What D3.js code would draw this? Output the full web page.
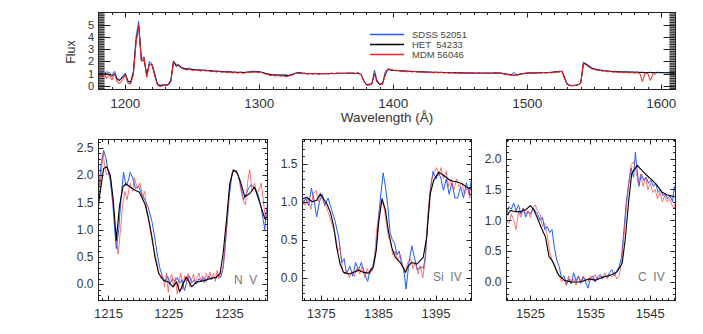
<!DOCTYPE html>
<html>
<head>
<meta charset="utf-8">
<script src="https://cdn.jsdelivr.net/npm/d3@7"></script>
<style>
  body { margin: 0; background: #fff; }
  svg { display: block; font-family: "Liberation Sans", Arial, sans-serif; }
</style>
</head>
<body>
<script>
// Full spectrum, sampled every 2 A from 1180 A
const topStart = 1180, topStep = 2;

const topBlue = [
  1.1, 1.2, 1.0, 1.15, 1.1, 0.9, 1.2, 0.6, 0.5, 0.8,
  1.05, 0.4, 0.3, 1.2, 4.0, 5.3, 2.2, 2.4, 0.8, 2.0,
  1.8, 1.0, 0.15, 0.05, 0.1, 0.05, 0.1, 0.5, 2.05, 1.7,
  1.75, 1.5, 1.45, 1.4, 1.45, 1.35, 1.35, 1.3, 1.32, 1.28,
  1.3, 1.25, 1.27, 1.2, 1.22, 1.2, 1.18, 1.17, 1.15, 1.18,
  1.12, 1.13, 1.1, 1.14, 1.1, 1.12, 1.15, 1.18, 1.2, 1.18,
  1.16, 1.12, 1.05, 1.0, 0.95, 0.92, 0.9, 0.9, 0.88, 0.9,
  0.88, 0.86, 0.92, 1.0, 1.08, 1.1, 1.05, 1.02, 1.0, 1.03,
  1.0, 1.02, 0.98, 1.0, 1.02, 0.99, 1.0, 1.03, 1.0, 1.02,
  1.05, 1.02, 1.04, 1.03, 1.05, 1.04, 1.02, 1.05, 0.95, 0.4,
  0.1, 0.15, 0.15, 1.3, 0.4, 0.1, 0.15, 1.15, 1.4, 1.3,
  1.25, 1.28, 1.25, 1.22, 1.24, 1.2, 1.2, 1.18, 1.2, 1.16,
  1.15, 1.17, 1.13, 1.14, 1.12, 1.1, 1.13, 1.1, 1.12, 1.09,
  1.1, 1.08, 1.1, 1.07, 1.09, 1.06, 1.08, 1.05, 1.07, 1.05,
  1.06, 1.04, 1.06, 1.04, 1.05, 1.06, 1.04, 1.05, 1.08, 1.06,
  1.05, 1.02, 0.98, 0.95, 0.9, 1.12, 0.92, 0.95, 1.0, 1.03,
  1.05, 1.06, 1.08, 1.06, 1.08, 1.07, 1.1, 1.08, 1.1, 1.12,
  1.15, 1.18, 1.15, 1.2, 0.7, 0.15, 0.05, 0.0, 0.05, 0.08,
  0.3, 1.95, 1.8, 1.65, 1.5, 1.4, 1.35, 1.3, 1.28, 1.25,
  1.22, 1.2, 1.18, 1.2, 1.15, 1.17, 1.14, 1.16, 1.13, 1.15,
  1.12, 1.14, 1.1, 1.12, 1.08, 1.1, 1.12, 1.08, 1.1, 1.12,
  1.08, 1.1, 1.07, 1.1, 1.08, 1.1
];

const topBlack = [
  1.0, 1.05, 1.0, 1.0, 0.95, 0.8, 1.0, 0.5, 0.45, 0.7,
  0.95, 0.35, 0.3, 1.0, 3.6, 4.9, 2.1, 2.1, 0.9, 1.8,
  1.7, 0.9, 0.1, 0.0, 0.05, 0.05, 0.1, 0.4, 2.0, 1.6,
  1.7, 1.5, 1.4, 1.38, 1.35, 1.33, 1.32, 1.3, 1.28, 1.27,
  1.25, 1.24, 1.22, 1.2, 1.19, 1.18, 1.16, 1.15, 1.14, 1.13,
  1.12, 1.11, 1.1, 1.1, 1.09, 1.1, 1.12, 1.14, 1.15, 1.15,
  1.14, 1.1, 1.04, 0.98, 0.93, 0.9, 0.88, 0.88, 0.87, 0.88,
  0.86, 0.85, 0.9, 0.98, 1.05, 1.06, 1.03, 1.02, 1.0, 1.0,
  0.99, 1.0, 0.99, 0.99, 1.0, 1.0, 1.0, 1.01, 1.01, 1.02,
  1.02, 1.02, 1.03, 1.03, 1.03, 1.03, 1.02, 1.02, 0.92, 0.45,
  0.08, 0.1, 0.15, 1.0, 0.3, 0.1, 0.2, 0.9, 1.35, 1.3,
  1.27, 1.26, 1.24, 1.22, 1.21, 1.2, 1.19, 1.18, 1.17, 1.16,
  1.15, 1.14, 1.13, 1.12, 1.12, 1.11, 1.11, 1.1, 1.1, 1.09,
  1.09, 1.08, 1.08, 1.07, 1.07, 1.06, 1.06, 1.05, 1.05, 1.05,
  1.05, 1.04, 1.04, 1.04, 1.04, 1.04, 1.04, 1.04, 1.05, 1.05,
  1.04, 1.02, 0.98, 0.93, 0.9, 0.88, 0.9, 0.94, 0.98, 1.02,
  1.04, 1.05, 1.06, 1.06, 1.07, 1.07, 1.08, 1.08, 1.08, 1.1,
  1.12, 1.15, 1.15, 1.2, 0.6, 0.1, 0.02, 0.02, 0.05, 0.08,
  0.25, 1.85, 1.78, 1.62, 1.45, 1.38, 1.33, 1.28, 1.26, 1.23,
  1.2, 1.19, 1.17, 1.16, 1.15, 1.14, 1.13, 1.13, 1.12, 1.12,
  1.11, 1.11, 1.1, 1.1, 1.09, 1.09, 1.09, 1.08, 1.08, 1.08,
  1.08, 1.08, 1.07, 1.08, 1.07, 1.08
];

const topRed = [
  0.9, 0.7, 1.1, 0.6, 0.9, 0.5, 1.0, 0.3, 0.2, 0.5,
  0.9, 0.2, 0.15, 0.9, 3.5, 5.0, 2.0, 2.3, 0.7, 1.8,
  1.7, 0.8, 0.05, -0.05, 0.0, 0.1, 0.05, 0.3, 1.95, 1.8,
  1.6, 1.45, 1.35, 1.3, 1.4, 1.25, 1.3, 1.35, 1.2, 1.3,
  1.22, 1.28, 1.15, 1.22, 1.12, 1.2, 1.1, 1.18, 1.08, 1.15,
  1.05, 1.12, 1.04, 1.1, 1.02, 1.08, 1.1, 1.12, 1.15, 1.12,
  1.08, 1.1, 0.98, 0.95, 0.85, 0.88, 0.8, 0.85, 0.78, 0.82,
  0.75, 0.8, 0.85, 0.95, 1.1, 1.02, 1.0, 1.05, 0.95, 1.02,
  0.96, 1.04, 0.95, 1.02, 0.97, 1.03, 0.98, 1.05, 0.99, 1.06,
  1.0, 1.05, 1.0, 1.06, 1.02, 1.05, 1.0, 1.08, 0.9, 0.4,
  0.05, 0.08, 0.15, 0.95, 0.4, 0.2, 0.1, 0.9, 1.4, 1.35,
  1.3, 1.22, 1.28, 1.18, 1.22, 1.15, 1.2, 1.13, 1.18, 1.12,
  1.16, 1.1, 1.14, 1.08, 1.12, 1.06, 1.1, 1.07, 1.1, 1.05,
  1.08, 1.04, 1.08, 1.03, 1.07, 1.02, 1.06, 1.0, 1.05, 1.01,
  1.04, 1.0, 1.05, 1.01, 1.03, 1.0, 1.05, 1.01, 1.04, 1.02,
  1.05, 0.98, 0.95, 0.9, 0.86, 0.85, 0.88, 0.9, 0.97, 1.0,
  1.06, 1.02, 1.08, 1.03, 1.09, 1.04, 1.1, 1.05, 1.1, 1.06,
  1.12, 1.1, 1.2, 1.15, 0.55, 0.1, 0.0, 0.05, 0.02, 0.1,
  0.2, 1.85, 1.7, 1.55, 1.4, 1.35, 1.28, 1.3, 1.2, 1.25,
  1.15, 1.18, 1.12, 1.15, 1.1, 1.14, 1.08, 1.12, 1.06, 1.1,
  1.05, 1.08, 1.02, 0.35, 1.05, 1.0, 0.45, 1.02, 0.95, null,
  null, null, null, null, null, null
];

// Legend (non-breaking spaces keep the double gap)
const seriesNames = ['SDSS 52051', 'HET\u00a0\u00a054233', 'MDM 56046'];
const seriesColors = ['#1f5bff', '#000000', '#ff2020'];

// Zoomed windows: [wavelength, flux]
const nvBlue = [[1213.35,1.7],[1213.8,2.2],[1214.2,2.45],[1214.6,2.3],[1214.9,2.1],[1215.3,1.9],[1215.7,1.5],[1216.0,1.05],[1216.3,0.65],[1216.7,1.0],[1217.1,1.6],[1217.5,2.05],[1217.9,1.8],[1218.3,1.9],[1218.6,2.05],[1219.0,1.95],[1219.5,1.75],[1220.0,1.8],[1220.5,1.65],[1221.0,1.55],[1221.6,1.4],[1222.2,1.15],[1222.6,0.9],[1223.0,0.6],[1223.5,0.3],[1224.0,0.12],[1224.4,0.05],[1224.8,0.15],[1225.2,0.0],[1225.6,0.1],[1226.0,0.05],[1226.4,0.12],[1226.8,0.02],[1227.2,0.08],[1227.6,-0.12],[1228.0,0.05],[1228.4,0.15],[1228.8,0.02],[1229.2,0.08],[1229.6,0.0],[1230.0,0.1],[1230.4,0.05],[1230.8,0.12],[1231.2,0.05],[1231.6,0.15],[1232.0,0.08],[1232.4,0.12],[1232.8,0.1],[1233.2,0.18],[1233.6,0.12],[1234.0,0.3],[1234.5,0.9],[1235.0,1.6],[1235.5,2.05],[1236.0,2.07],[1236.5,2.0],[1237.0,1.75],[1237.4,1.55],[1237.8,1.65],[1238.2,1.75],[1238.6,1.82],[1239.0,1.78],[1239.5,1.72],[1239.9,1.6],[1240.3,1.4],[1240.6,1.2],[1240.9,1.0],[1241.1,1.3],[1241.35,1.45]];
const nvBlack = [[1213.35,1.48],[1214.2,2.12],[1214.7,2.15],[1215.3,2.0],[1215.8,1.54],[1216.3,0.8],[1216.8,1.41],[1217.4,1.78],[1217.9,1.84],[1218.6,1.78],[1219.4,1.72],[1220.1,1.69],[1220.5,1.6],[1221.1,1.45],[1221.6,1.23],[1222.2,0.87],[1222.7,0.5],[1223.3,0.2],[1224.1,0.07],[1224.9,0.04],[1225.7,-0.05],[1226.3,0.04],[1226.8,-0.14],[1227.4,0.01],[1227.9,0.13],[1228.8,-0.05],[1229.6,0.04],[1230.7,0.06],[1231.8,0.1],[1232.9,0.13],[1233.5,0.2],[1234.0,0.56],[1234.6,1.23],[1235.1,1.84],[1235.7,2.09],[1236.2,2.07],[1236.8,1.9],[1237.6,1.6],[1238.4,1.66],[1239.2,1.78],[1240.1,1.48],[1240.9,1.2],[1241.35,1.23]];
const nvRed = [[1213.35,1.35],[1213.7,1.9],[1214.1,2.4],[1214.4,2.15],[1214.7,2.0],[1215.1,2.05],[1215.4,1.9],[1215.8,1.4],[1216.2,1.0],[1216.6,0.55],[1217.0,1.0],[1217.3,1.4],[1217.7,1.7],[1218.1,1.55],[1218.6,1.85],[1219.0,1.7],[1219.3,1.95],[1219.8,1.75],[1220.2,1.85],[1220.7,1.6],[1221.0,1.7],[1221.4,1.3],[1221.8,1.05],[1222.2,0.8],[1222.6,0.6],[1223.0,0.4],[1223.4,0.2],[1223.7,0.1],[1224.0,0.15],[1224.3,-0.05],[1224.6,0.2],[1224.9,-0.15],[1225.2,0.1],[1225.5,0.18],[1225.8,-0.05],[1226.1,0.12],[1226.4,-0.18],[1226.7,0.05],[1227.0,0.2],[1227.3,-0.1],[1227.6,0.15],[1227.9,0.05],[1228.2,0.2],[1228.5,-0.05],[1228.8,0.1],[1229.1,0.18],[1229.4,0.0],[1229.7,0.12],[1230.0,0.2],[1230.3,0.05],[1230.6,0.15],[1230.9,0.02],[1231.2,0.2],[1231.5,0.08],[1231.8,0.22],[1232.1,0.1],[1232.4,0.2],[1232.7,0.05],[1233.0,0.25],[1233.3,0.1],[1233.6,0.2],[1233.9,0.25],[1234.2,0.5],[1234.7,1.2],[1235.1,1.8],[1235.6,2.1],[1236.0,2.05],[1236.5,2.0],[1237.0,1.7],[1237.3,1.55],[1237.7,1.45],[1238.1,1.9],[1238.4,2.1],[1238.8,1.7],[1239.2,1.85],[1239.6,1.65],[1240.0,1.75],[1240.3,1.85],[1240.7,1.5],[1241.0,1.2],[1241.35,1.3]];

const siBlue = [[1371.7,0.95],[1372.3,1.05],[1372.8,0.95],[1373.3,1.18],[1373.8,1.0],[1374.2,0.8],[1374.7,1.0],[1375.2,1.1],[1375.6,0.95],[1376.2,1.05],[1376.8,0.9],[1377.4,0.75],[1378.0,0.55],[1378.6,0.2],[1379.0,0.25],[1379.4,0.05],[1380.0,0.15],[1380.5,0.02],[1381.0,0.2],[1381.5,0.1],[1382.0,0.2],[1382.6,0.05],[1383.1,-0.05],[1383.5,0.1],[1384.0,0.15],[1384.6,0.4],[1385.0,0.8],[1385.4,1.1],[1385.8,1.38],[1386.2,1.2],[1386.6,0.95],[1387.0,0.6],[1387.4,0.5],[1387.8,0.45],[1388.2,0.3],[1388.6,0.35],[1389.0,0.2],[1389.4,0.1],[1389.8,-0.15],[1390.3,0.2],[1390.8,0.42],[1391.3,0.25],[1391.8,0.1],[1392.3,0.15],[1392.8,0.12],[1393.2,0.3],[1393.6,0.8],[1394.1,1.2],[1394.5,1.4],[1395.0,1.3],[1395.5,1.38],[1395.9,1.3],[1396.3,1.15],[1396.8,1.3],[1397.3,1.1],[1397.8,1.25],[1398.3,1.05],[1398.8,1.05],[1399.3,1.2],[1399.8,1.05],[1400.3,1.25],[1400.8,1.1],[1401.2,1.3]];
const siBlack = [[1371.7,1.04],[1372.5,1.06],[1373.4,1.0],[1374.2,1.02],[1374.8,1.1],[1375.4,1.04],[1376.0,0.97],[1376.6,0.86],[1377.2,0.67],[1377.7,0.4],[1378.3,0.18],[1378.9,0.07],[1379.8,0.05],[1380.6,0.07],[1381.5,0.1],[1382.4,0.07],[1383.3,0.06],[1384.1,0.14],[1384.6,0.36],[1385.0,0.71],[1385.6,1.04],[1386.2,0.89],[1386.7,0.62],[1387.3,0.4],[1387.9,0.27],[1388.8,0.2],[1389.7,0.07],[1390.2,0.16],[1390.8,0.2],[1391.7,0.18],[1392.8,0.27],[1393.4,0.54],[1394.0,1.1],[1394.6,1.28],[1395.5,1.39],[1396.3,1.35],[1397.5,1.28],[1398.7,1.26],[1399.5,1.24],[1400.4,1.19],[1401.2,1.16]];
const siRed = [[1371.7,1.05],[1372.2,0.95],[1372.7,1.05],[1373.2,0.9],[1373.6,1.1],[1374.1,1.15],[1374.5,1.0],[1374.9,1.12],[1375.4,1.0],[1375.8,0.95],[1376.3,0.85],[1376.7,0.75],[1377.1,0.65],[1377.5,0.55],[1377.9,0.35],[1378.3,0.4],[1378.7,0.1],[1379.1,0.05],[1379.5,0.1],[1379.9,0.0],[1380.4,0.08],[1380.8,0.02],[1381.2,0.12],[1381.7,0.05],[1382.1,0.15],[1382.6,0.0],[1383.0,0.12],[1383.5,0.05],[1383.9,0.1],[1384.3,0.25],[1384.7,0.65],[1385.1,0.85],[1385.5,1.0],[1385.9,0.95],[1386.3,0.75],[1386.7,0.55],[1387.1,0.45],[1387.5,0.3],[1387.9,0.35],[1388.3,0.22],[1388.8,0.3],[1389.2,0.15],[1389.7,0.1],[1390.1,0.2],[1390.6,0.25],[1391.0,0.12],[1391.4,0.2],[1391.9,0.05],[1392.3,0.15],[1392.7,0.0],[1393.1,0.2],[1393.5,0.7],[1393.9,1.1],[1394.3,1.3],[1394.7,1.4],[1395.1,1.45],[1395.5,1.35],[1395.9,1.45],[1396.3,1.3],[1396.8,1.4],[1397.2,1.2],[1397.7,1.3],[1398.1,1.15],[1398.6,1.3],[1399.0,1.2],[1399.5,1.25],[1400.0,1.1],[1400.5,1.2],[1400.9,1.05],[1401.2,1.15]];

const cBlue = [[1521.0,1.1],[1521.4,1.22],[1521.8,1.18],[1522.2,1.28],[1522.6,1.15],[1523.0,1.25],[1523.4,1.1],[1523.8,1.2],[1524.2,1.05],[1524.6,1.15],[1525.0,1.1],[1525.4,1.2],[1525.8,1.15],[1526.2,1.1],[1526.6,1.0],[1527.0,1.05],[1527.4,0.85],[1527.8,0.9],[1528.2,0.8],[1528.6,0.85],[1529.0,0.55],[1529.4,0.35],[1529.8,0.25],[1530.2,0.05],[1530.6,0.1],[1531.0,-0.05],[1531.4,0.05],[1531.8,-0.03],[1532.2,0.15],[1532.6,0.02],[1533.0,0.1],[1533.4,-0.02],[1533.8,0.08],[1534.2,0.0],[1534.6,-0.1],[1535.0,0.05],[1535.4,0.1],[1535.8,0.0],[1536.2,0.08],[1536.6,0.12],[1537.0,0.05],[1537.4,0.1],[1537.8,0.08],[1538.2,0.15],[1538.6,0.2],[1539.0,0.1],[1539.4,0.18],[1539.8,0.25],[1540.2,0.4],[1540.6,0.85],[1541.0,1.3],[1541.4,1.6],[1541.8,1.85],[1542.2,1.7],[1542.5,2.1],[1542.8,1.8],[1543.1,1.55],[1543.5,1.75],[1543.9,1.65],[1544.3,1.7],[1544.7,1.6],[1545.1,1.65],[1545.5,1.55],[1545.9,1.6],[1546.3,1.45],[1546.7,1.5],[1547.1,1.4],[1547.5,1.42],[1547.9,1.35],[1548.3,1.4],[1548.7,1.3],[1549.0,1.55],[1549.2,1.45]];
const cBlack = [[1521.0,1.08],[1521.7,1.16],[1522.5,1.14],[1523.3,1.14],[1524.2,1.17],[1525.0,1.24],[1525.6,1.16],[1526.1,1.05],[1526.9,0.86],[1527.5,0.73],[1528.1,0.41],[1528.6,0.35],[1529.2,0.22],[1529.7,0.11],[1530.6,0.03],[1531.7,0.0],[1533.3,0.0],[1534.7,0.05],[1535.8,0.03],[1537.2,0.08],[1538.3,0.11],[1539.4,0.16],[1540.3,0.3],[1540.8,0.68],[1541.4,1.32],[1541.9,1.76],[1542.8,1.89],[1543.6,1.81],[1544.4,1.73],[1545.3,1.65],[1546.1,1.57],[1546.9,1.46],[1547.8,1.41],[1549.2,1.38]];
const cRed = [[1521.0,1.0],[1521.4,0.95],[1521.8,1.1],[1522.2,1.0],[1522.6,0.85],[1523.0,1.15],[1523.4,1.05],[1523.8,1.2],[1524.2,1.1],[1524.6,1.15],[1525.0,1.05],[1525.4,1.2],[1525.8,1.25],[1526.2,1.15],[1526.6,1.1],[1527.0,0.9],[1527.4,0.95],[1527.8,0.75],[1528.2,0.5],[1528.6,0.35],[1529.0,0.3],[1529.4,0.15],[1529.8,0.1],[1530.2,0.0],[1530.6,0.05],[1531.0,-0.05],[1531.4,0.1],[1531.8,0.0],[1532.2,0.05],[1532.6,-0.05],[1533.0,0.08],[1533.4,0.02],[1533.8,0.1],[1534.2,0.05],[1534.6,0.0],[1535.0,0.1],[1535.4,0.05],[1535.8,0.12],[1536.2,0.03],[1536.6,0.1],[1537.0,0.08],[1537.4,0.15],[1537.8,0.05],[1538.2,0.12],[1538.6,0.08],[1539.0,0.15],[1539.4,0.05],[1539.8,0.1],[1540.2,0.3],[1540.6,0.75],[1541.0,1.2],[1541.4,1.6],[1541.8,1.9],[1542.2,1.95],[1542.6,1.8],[1543.0,1.6],[1543.4,1.75],[1543.8,1.55],[1544.2,1.7],[1544.6,1.5],[1545.0,1.6],[1545.4,1.45],[1545.8,1.5],[1546.2,1.35],[1546.6,1.45],[1547.0,1.3],[1547.4,1.4],[1547.8,1.3],[1548.2,1.35],[1548.6,1.25],[1549.0,1.2],[1549.2,1.3]];

const ionLabels = ['N\u00a0\u00a0V', 'Si\u00a0\u00a0IV', 'C\u00a0\u00a0IV'];
const topXTicks = [1200, 1300, 1400, 1500, 1600];
const topYTicks = [0, 1, 2, 3, 4, 5];
const zoomXTicks = [[1215, 1225, 1235], [1375, 1385, 1395], [1525, 1535, 1545]];
const zoomYTicks = [[0, 0.5, 1, 1.5, 2, 2.5], [0, 0.5, 1, 1.5], [0, 0.5, 1, 1.5, 2]];

const width = 703, height = 334;
const textColor = '#333';

const svg = d3.select('body').append('svg')
    .attr('width', width)
    .attr('height', height);

const fmt1 = d3.format('.1f');

// draw inward IDL style ticks on all four sides
function drawTicks(g, x, y, xMaj, xMin, yMaj, yMin, majLen, minLen, yInset) {
    const [x0, x1] = x.range();
    const [y0, y1] = y.range();
    const tk = g.append('g').attr('stroke', '#222').attr('stroke-width', 1);
    const xt = xMaj.map(v => [v, majLen]).concat(xMin.map(v => [v, minLen]));
    xt.forEach(([v, len]) => {
        const px = Math.round(x(v)) + 0.5;
        tk.append('line').attr('x1', px).attr('x2', px).attr('y1', y0).attr('y2', y0 - len);
        tk.append('line').attr('x1', px).attr('x2', px).attr('y1', y1).attr('y2', y1 + len);
    });
    const yt = yMaj.map(v => [v, majLen]).concat(yMin.map(v => [v, minLen]));
    yt.forEach(([v, len]) => {
        const py = Math.round(y(v)) + 0.5;
        tk.append('line').attr('x1', x0 + yInset).attr('x2', x0 + yInset + len).attr('y1', py).attr('y2', py);
        tk.append('line').attr('x1', x1 - yInset).attr('x2', x1 - yInset - len).attr('y1', py).attr('y2', py);
    });
}

function drawSeries(g, clipId, data, x, y, color, opacity, lw) {
    const line = d3.line()
        .defined(d => d[1] != null)
        .x(d => x(d[0]))
        .y(d => y(d[1]));
    g.append('path')
        .datum(data)
        .attr('clip-path', `url(#${clipId})`)
        .attr('fill', 'none')
        .attr('stroke', color)
        .attr('stroke-opacity', opacity)
        .attr('stroke-width', lw)
        .attr('stroke-linejoin', 'round')
        .attr('d', line);
}

function addClip(id, x, y) {
    const [x0, x1] = x.range();
    const [y0, y1] = y.range();
    svg.append('clipPath').attr('id', id)
        .append('rect')
        .attr('x', x0).attr('y', y1)
        .attr('width', x1 - x0).attr('height', y0 - y1);
}

// ---------- top panel ----------
const topX = d3.scaleLinear().domain([1180, 1610.7]).range([98.5, 675.5]);
const topY = d3.scaleLinear().domain([-0.3, 6.02]).range([89.5, 12.5]);
const topWave = topBlue.map((d, i) => topStart + i * topStep);
const topG = svg.append('g');
addClip('clip-top', topX, topY);

// grey side strips (dense y minor ticks)
const stripW = 6;
[topX.range()[0], topX.range()[1] - stripW].forEach(sx => {
    topG.append('rect')
        .attr('x', sx).attr('y', 12.5)
        .attr('width', stripW).attr('height', 77)
        .attr('fill', '#9a9a9a');
    d3.range(-0.2, 6.01, 0.2).forEach(v => {
        topG.append('line')
            .attr('x1', sx).attr('x2', sx + stripW)
            .attr('y1', topY(v)).attr('y2', topY(v))
            .attr('stroke', '#2a2a2a').attr('stroke-width', 1.1);
    });
});

[[topBlue, 0], [topBlack, 1], [topRed, 2]].forEach(([vals, k]) => {
    drawSeries(topG, 'clip-top', vals.map((v, i) => [topWave[i], v]), topX, topY,
        seriesColors[k], 1, 1);
});

drawTicks(topG, topX, topY, topXTicks, d3.range(1190, 1610, 10).filter(v => v % 100 !== 0),
    topYTicks, [], 5, 2.5, stripW);
// the major y ticks of IDL run through the grey strip as well
topYTicks.forEach(v => {
    [[98.5, 1], [675.5, -1]].forEach(([sx, s]) => {
        topG.append('line')
            .attr('x1', sx).attr('x2', sx + s * (stripW + 6))
            .attr('y1', Math.round(topY(v)) + 0.5).attr('y2', Math.round(topY(v)) + 0.5)
            .attr('stroke', '#222');
    });
});

topG.append('rect')
    .attr('x', 98.5).attr('y', 12.5)
    .attr('width', 577).attr('height', 77)
    .attr('fill', 'none').attr('stroke', '#222');

topG.selectAll('.xl').data(topXTicks).enter().append('text')
    .attr('x', d => topX(d)).attr('y', 108)
    .attr('text-anchor', 'middle')
    .attr('font-size', 13.5).attr('fill', textColor)
    .text(d => d);
topG.selectAll('.yl').data(topYTicks).enter().append('text')
    .attr('x', 94).attr('y', d => topY(d)).attr('dy', '0.36em')
    .attr('text-anchor', 'end')
    .attr('font-size', 11).attr('fill', textColor)
    .text(d => d);

topG.append('text')
    .attr('transform', 'translate(75,52) rotate(-90)')
    .attr('text-anchor', 'middle')
    .attr('font-size', 12.5).attr('fill', textColor)
    .text('Flux');
topG.append('text')
    .attr('x', 387).attr('y', 122)
    .attr('text-anchor', 'middle')
    .attr('font-size', 13.5).attr('fill', textColor)
    .text('Wavelength (Å)');

// legend
seriesNames.forEach((name, k) => {
    const ly = 34.5 + k * 10;
    topG.append('line')
        .attr('x1', 370).attr('x2', 404)
        .attr('y1', ly).attr('y2', ly)
        .attr('stroke', seriesColors[k]).attr('stroke-width', 1.5);
    topG.append('text')
        .attr('x', 412).attr('y', ly).attr('dy', '0.36em')
        .attr('font-size', 9.5).attr('fill', '#444')
        .text(name);
});

// ---------- zoomed panels ----------
const panels = [
    { dom: [1213.35, 1241.35], ymax: 2.65, x0: 98.5, x1: 267.5, blue: nvBlue, black: nvBlack, red: nvRed, lab: [234, 284] },
    { dom: [1371.74, 1401.2], ymax: 1.82, x0: 302.5, x1: 471.5, blue: siBlue, black: siBlack, red: siRed, lab: [433, 281] },
    { dom: [1521.0, 1549.2], ymax: 2.31, x0: 506.5, x1: 675.5, blue: cBlue, black: cBlack, red: cRed, lab: [638, 281] }
];

panels.forEach((p, i) => {
    const x = d3.scaleLinear().domain(p.dom).range([p.x0, p.x1]);
    const y = d3.scaleLinear().domain([-0.3, p.ymax]).range([300.5, 139.5]);
    const g = svg.append('g');
    const cid = `clip-p${i}`;
    addClip(cid, x, y);

    drawSeries(g, cid, p.blue, x, y, seriesColors[0], 1, 1);
    drawSeries(g, cid, p.red, x, y, '#ff3b3b', 0.7, 1);
    drawSeries(g, cid, p.black, x, y, '#000', 1, 1.1);

    const xMin = d3.range(Math.ceil(p.dom[0]), p.dom[1], 1).filter(v => !zoomXTicks[i].includes(v));
    const yMin = d3.range(-0.2, p.ymax, 0.1).map(v => Math.round(v * 10) / 10)
        .filter(v => Math.abs(v * 2 - Math.round(v * 2)) > 1e-6);
    drawTicks(g, x, y, zoomXTicks[i], xMin, zoomYTicks[i], yMin, 5, 2.5, 0);

    g.append('rect')
        .attr('x', p.x0).attr('y', 139.5)
        .attr('width', p.x1 - p.x0).attr('height', 161)
        .attr('fill', 'none').attr('stroke', '#222');

    g.selectAll('.xl').data(zoomXTicks[i]).enter().append('text')
        .attr('x', d => x(d)).attr('y', 318)
        .attr('text-anchor', 'middle')
        .attr('font-size', 13).attr('fill', textColor)
        .text(d => d);
    g.selectAll('.yl').data(zoomYTicks[i]).enter().append('text')
        .attr('x', p.x0 - 5).attr('y', d => y(d)).attr('dy', '0.36em')
        .attr('text-anchor', 'end')
        .attr('font-size', 12).attr('fill', textColor)
        .text(d => fmt1(d));

    g.append('text')
        .attr('x', p.lab[0]).attr('y', p.lab[1])
        .attr('font-size', 12).attr('fill', '#777')
        .text(ionLabels[i]);
});
</script>
</body>
</html>
